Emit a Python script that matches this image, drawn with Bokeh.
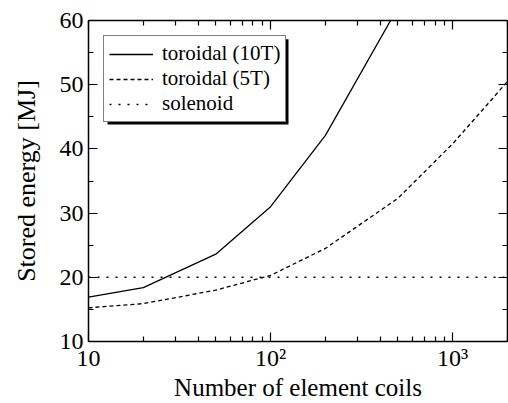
import math
from bokeh.plotting import figure
from bokeh.models import (Range1d, FixedTicker, LogAxis, LinearAxis, Legend,
                          LegendItem, BoxAnnotation)
from bokeh.embed import file_html
from bokeh.resources import INLINE

# ---- data ----
coils_10T = [10, 20, 50, 100, 200, 500]
energy_10T = [16.9, 18.4, 23.6, 31.0, 42.1, 62.0]

coils_5T = [10, 20, 50, 100, 200, 500, 1000, 2000]
energy_5T = [15.25, 15.9, 18.0, 20.3, 24.5, 32.3, 40.8, 50.5]

coils_sol = [10, 2000]
energy_sol = [20, 20]

x_major = [10, 100, 1000]
x_minor = [20, 30, 40, 50, 60, 70, 80, 90,
           200, 300, 400, 500, 600, 700, 800, 900, 2000]
x_labels = {10: "10", 100: "10\u00b2", 1000: "10\u00b3"}
y_major = [10, 20, 30, 40, 50, 60]
y_minor = [15, 25, 35, 45, 55]

FONT = "Liberation Serif"
X0, X1, Y0, Y1 = 10, 2000, 10, 60

W, H = 508, 403
BL, BT, BR, BB = 88, 20, 1, 59
FW, FH = W - BL - BR, H - BT - BB

p = figure(width=W, height=H, x_axis_type="log",
           x_range=Range1d(X0, X1), y_range=Range1d(Y0, Y1),
           output_backend="svg", toolbar_location=None,
           min_border_left=BL, min_border_top=BT, min_border_right=BR,
           min_border_bottom=BB)
p.outline_line_color = None
p.xgrid.visible = False
p.ygrid.visible = False
p.background_fill_color = "white"

xt = FixedTicker(ticks=x_major, minor_ticks=x_minor)
yt = FixedTicker(ticks=y_major, minor_ticks=y_minor)

def style(ax, labels=True):
    ax.axis_line_color = "black"
    ax.axis_line_width = 1.5
    ax.major_tick_line_color = "black"
    ax.minor_tick_line_color = "black"
    ax.major_tick_line_width = 1.2
    ax.minor_tick_line_width = 1.2
    ax.major_tick_in = 9
    ax.major_tick_out = 0
    ax.minor_tick_in = 5
    ax.minor_tick_out = 0
    ax.major_label_text_font = FONT
    ax.major_label_text_color = "black"
    ax.axis_label_text_font = FONT
    ax.axis_label_text_font_style = "normal"
    ax.axis_label_text_color = "black"
    if not labels:
        ax.major_label_text_font_size = "1px"
        ax.major_label_text_color = None
        ax.major_label_standoff = 0

xa = p.xaxis[0]
xa.ticker = xt
xa.major_label_overrides = x_labels
style(xa)
xa.major_label_text_font_size = "24px"
xa.major_label_standoff = 3
xa.axis_label = "Number of element coils"
xa.axis_label_text_font_size = "25px"
xa.axis_label_standoff = 0

ya = p.yaxis[0]
ya.ticker = yt
style(ya)
ya.major_label_text_font_size = "24px"
ya.major_label_standoff = 5
ya.axis_label = "Stored energy [MJ]"
ya.axis_label_text_font_size = "26px"
ya.axis_label_standoff = 16

top = LogAxis(ticker=xt)
style(top, labels=False)
p.add_layout(top, "above")
right = LinearAxis(ticker=yt)
style(right, labels=False)
p.add_layout(right, "right")

r1 = p.line(coils_10T, energy_10T, line_color="black", line_width=1.3)
r2 = p.line(coils_5T, energy_5T, line_color="black", line_width=1.3,
            line_dash="4 3")
r3 = p.line(coils_sol, energy_sol, line_color="black", line_width=1.5,
            line_dash="2 7")

names = ["toroidal (10T)", "toroidal (5T)", "solenoid"]
rends = [r1, r2, r3]

# legend box geometry (frame pixels) used for the drop shadow
LM, LW, LH, SH = 15, 181, 86, 4

def px_to_x(px):
    return 10 ** (math.log10(X0) + px / FW * (math.log10(X1) - math.log10(X0)))

def py_to_y(py):
    return Y1 - py / FH * (Y1 - Y0)

shadow = BoxAnnotation(left=px_to_x(LM + SH), right=px_to_x(LM + LW + SH),
                       top=py_to_y(LM + SH), bottom=py_to_y(LM + LH + SH),
                       fill_color="black", fill_alpha=1.0, line_color=None)
p.add_layout(shadow)

legend = Legend(items=[LegendItem(label=n, renderers=[r]) for n, r in zip(names, rends)],
                location="top_left", margin=LM,
                label_text_font=FONT, label_text_font_size="21px",
                label_text_color="black",
                glyph_width=44, glyph_height=20, label_height=20,
                label_standoff=9, padding=5, spacing=0,
                border_line_color="black", border_line_width=1.5,
                background_fill_color="white", background_fill_alpha=1.0)
p.add_layout(legend)

open("out.html", "w").write(file_html(p, INLINE))
